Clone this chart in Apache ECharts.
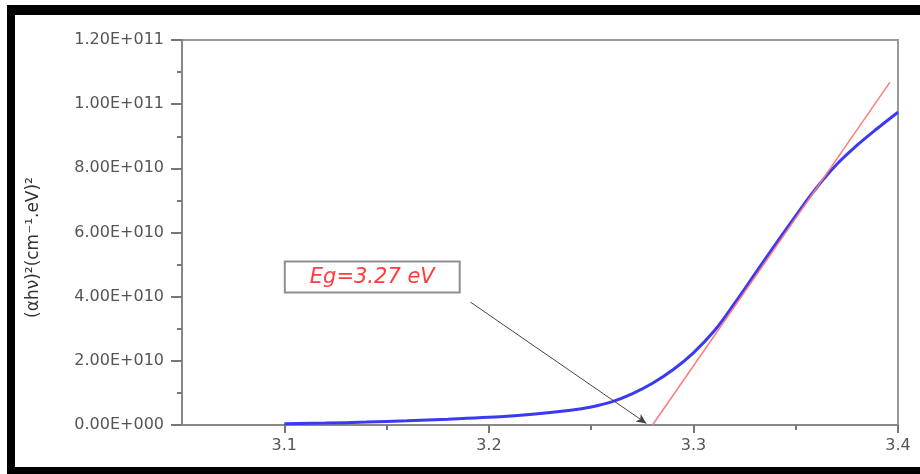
<!DOCTYPE html>
<html>
<head>
<meta charset="utf-8">
<script src="https://cdn.jsdelivr.net/npm/echarts@6/dist/echarts.min.js"></script>
<style>
html,body{margin:0;padding:0;background:#fff;}
#main{width:920px;height:474px;}
#frame{position:absolute;left:7px;top:5px;width:913px;height:469px;box-sizing:border-box;
  border-left:8px solid #000;border-top:10px solid #000;border-bottom:7px solid #000;pointer-events:none;}
</style>
</head>
<body>
<div id="main"></div>
<div id="frame"></div>
<script>
// 光子能量 hv (eV)
var energy = [3.10, 3.12, 3.14, 3.16, 3.18, 3.20, 3.22, 3.24, 3.25, 3.26, 3.27, 3.28, 3.29,
    3.30, 3.31, 3.32, 3.33, 3.34, 3.35, 3.36, 3.37, 3.38, 3.39, 3.40];
// (αhν)² 单位 1E+010
var absorb = [0.04, 0.06, 0.09, 0.13, 0.18, 0.24, 0.33, 0.46, 0.56, 0.72, 0.97, 1.30, 1.72,
    2.25, 2.92, 3.78, 4.70, 5.62, 6.52, 7.38, 8.12, 8.72, 9.25, 9.75];
// 切线 (外推求 Eg)
var tangentX = [3.28, 3.396];
var tangentY = [0, 10.68];
// 坐标刻度
var xLabels = [3.1, 3.2, 3.3, 3.4];
var xMinor = [3.15, 3.25, 3.35];
// 标注
var noteText = 'Eg=3.27 eV';
var notePos = [3.143, 4.61];
var arrowFrom = [3.191, 3.83];
var arrowTo = [3.277, 0.05];

var E10 = 1e10;
var myChart = echarts.init(document.getElementById('main'));

function sci(v) {
    if (v === 0) return '0.00E+000';
    var s = v.toExponential(2).split('e');
    var ex = parseInt(s[1], 10);
    return s[0].toUpperCase() + 'E' + (ex < 0 ? '-' : '+') + String(Math.abs(ex)).padStart(3, '0');
}

var curve = energy.map(function (x, i) { return [x, absorb[i] * E10]; });
var tangent = tangentX.map(function (x, i) { return [x, tangentY[i] * E10]; });

var labelFont = {color: '#555', fontSize: 16, fontFamily: 'DejaVu Sans'};

var option = {
    animation: false,
    grid: {
        left: 182, right: 22, top: 40, bottom: 49,
        show: true, borderColor: '#999', borderWidth: 2
    },
    xAxis: [{
        type: 'value',
        min: 3.05, max: 3.4,
        splitLine: {show: false},
        axisLine: {lineStyle: {color: '#888', width: 2}},
        axisTick: {customValues: xLabels, length: 8, lineStyle: {color: '#777', width: 2}},
        axisLabel: Object.assign({customValues: xLabels, margin: 13, formatter: function (v) { return v.toFixed(1); }}, labelFont)
    }, {
        type: 'value',
        min: 3.05, max: 3.4,
        position: 'bottom',
        splitLine: {show: false},
        axisLine: {show: false},
        axisTick: {customValues: xMinor, length: 5, lineStyle: {color: '#777', width: 2}},
        axisLabel: {show: false}
    }],
    yAxis: {
        type: 'value',
        min: 0, max: 1.2e11, interval: 2e10,
        name: '(αhν)²(cm⁻¹.eV)²',
        nameLocation: 'middle',
        nameGap: 140,
        nameTextStyle: {color: '#333', fontSize: 17, fontFamily: 'DejaVu Sans', padding: [0, 30, 0, 0]},
        splitLine: {show: false},
        axisLine: {show: true, lineStyle: {color: '#888', width: 2}},
        axisTick: {length: 11, lineStyle: {color: '#777', width: 2}},
        minorTick: {show: true, splitNumber: 2, length: 5, lineStyle: {color: '#777', width: 2}},
        axisLabel: Object.assign({margin: 18, formatter: sci}, labelFont)
    },
    series: [
        {
            name: 'tangent',
            type: 'line',
            data: tangent,
            showSymbol: false,
            lineStyle: {color: '#ff7a7a', width: 1.5},
            z: 3
        },
        {
            name: 'curve',
            type: 'line',
            data: curve,
            smooth: 0.4,
            showSymbol: false,
            lineStyle: {color: '#3a3af2', width: 3},
            z: 2,
            markLine: {
                silent: true,
                symbol: ['none', 'arrow'],
                symbolSize: [7, 10],
                label: {show: false},
                lineStyle: {color: '#444', width: 1, type: 'solid'},
                data: [[
                    {coord: [arrowFrom[0], arrowFrom[1] * E10]},
                    {coord: [arrowTo[0], arrowTo[1] * E10]}
                ]]
            },
            markPoint: {
                silent: true,
                symbol: 'rect',
                symbolSize: 0,
                label: {
                    show: true, position: 'inside',
                    formatter: noteText,
                    color: '#ff3b3b', fontSize: 21, fontStyle: 'italic',
                    fontFamily: 'DejaVu Sans',
                    backgroundColor: '#fff', borderColor: '#8f8f8f', borderWidth: 2,
                    padding: [4, 24, 4, 24]
                },
                data: [{coord: [notePos[0], notePos[1] * E10]}]
            }
        }
    ]
};
myChart.setOption(option);
</script>
</body>
</html>
